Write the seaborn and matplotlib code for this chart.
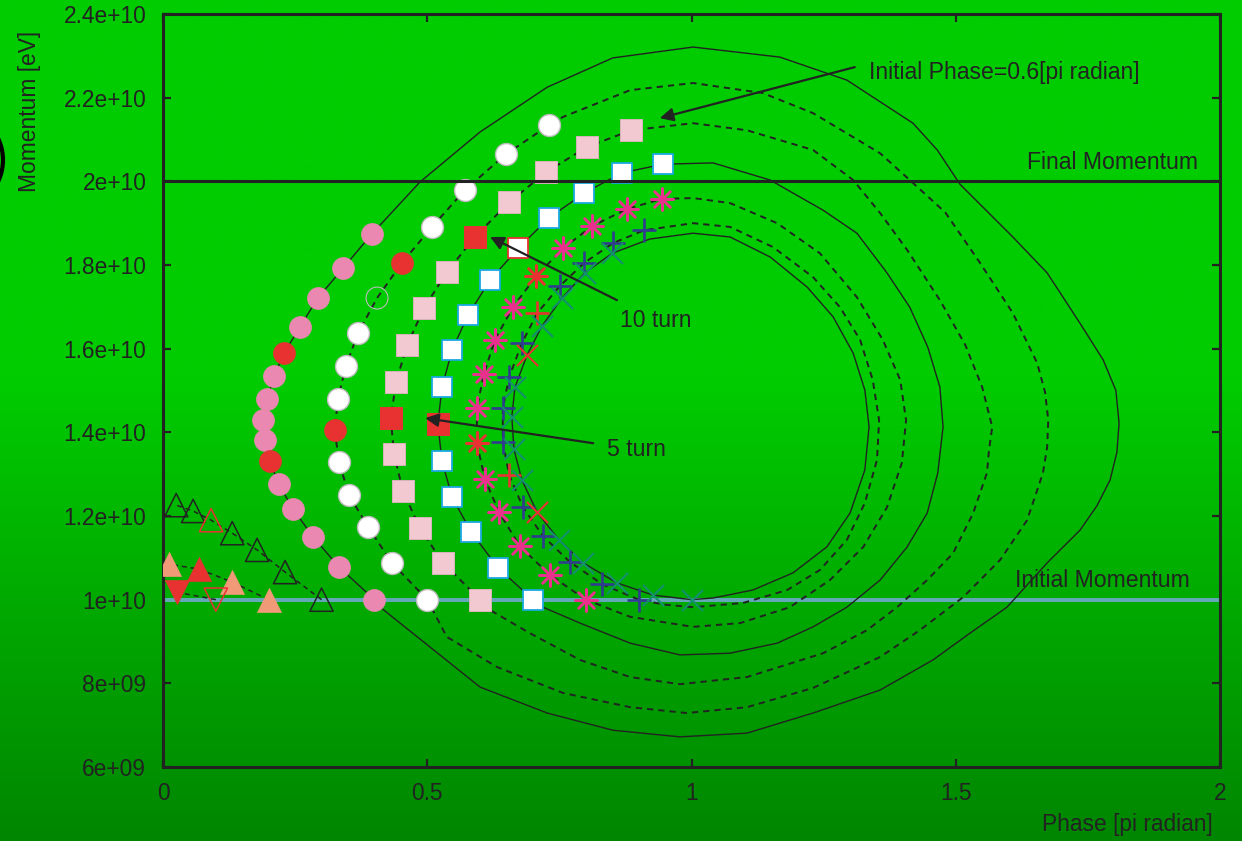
import numpy as np
import pandas as pd
import matplotlib
matplotlib.use("Agg")
import matplotlib.pyplot as plt
import seaborn as sns
from matplotlib.patches import Circle
from matplotlib.transforms import IdentityTransform

sns.set_theme(style="white")
plt.rcParams["font.family"] = ["Liberation Sans", "DejaVu Sans"]

SCALE = 1e9  # momentum values below are in units of 1e9 eV
HIGHLIGHT = [5, 10]  # 5th and 10th turn

# ---------------- turn-by-turn points (phase [pi rad], momentum [1e9 eV]) -------------
# initial phase 0.4 (pink circles)
c1_x = [0.40, 0.333, 0.284, 0.246, 0.219, 0.202, 0.193, 0.189, 0.197, 0.210, 0.229, 0.259, 0.293, 0.341, 0.395]
c1_y = [10.0, 10.78, 11.50, 12.17, 12.76, 13.31, 13.82, 14.29, 14.80, 15.34, 15.89, 16.52, 17.21, 17.93, 18.74]
# initial phase 0.5 (white circles)
c2_x = [0.50, 0.433, 0.388, 0.352, 0.333, 0.325, 0.331, 0.346, 0.369, 0.405, 0.452, 0.509, 0.571, 0.649, 0.730]
c2_y = [10.0, 10.88, 11.74, 12.50, 13.29, 14.05, 14.80, 15.58, 16.37, 17.21, 18.05, 18.91, 19.79, 20.65, 21.34]
# initial phase 0.6 (light pink squares)
c3_x = [0.60, 0.530, 0.486, 0.454, 0.437, 0.431, 0.441, 0.462, 0.494, 0.537, 0.590, 0.655, 0.725, 0.802, 0.886]
c3_y = [10.0, 10.88, 11.71, 12.60, 13.48, 14.34, 15.20, 16.09, 16.97, 17.83, 18.67, 19.50, 20.22, 20.82, 21.22]
# initial phase 0.7 (blue-edged squares)
c4_x = [0.70, 0.634, 0.583, 0.547, 0.528, 0.520, 0.528, 0.547, 0.577, 0.619, 0.672, 0.730, 0.797, 0.868, 0.946]
c4_y = [10.0, 10.76, 11.62, 12.45, 13.31, 14.20, 15.08, 15.97, 16.80, 17.64, 18.40, 19.12, 19.72, 20.20, 20.41]
# initial phase 0.8 (asterisks)
c5_x = [0.80, 0.732, 0.675, 0.636, 0.609, 0.594, 0.594, 0.607, 0.628, 0.662, 0.706, 0.757, 0.812, 0.878, 0.944]
c5_y = [10.0, 10.59, 11.28, 12.09, 12.88, 13.74, 14.58, 15.39, 16.21, 16.99, 17.73, 18.40, 18.93, 19.34, 19.58]
# initial phase 0.9 (plus)
c6_x = [0.90, 0.831, 0.770, 0.719, 0.681, 0.655, 0.643, 0.643, 0.655, 0.679, 0.708, 0.751, 0.797, 0.851, 0.910]
c6_y = [10.0, 10.37, 10.90, 11.52, 12.21, 12.98, 13.77, 14.58, 15.32, 16.13, 16.85, 17.50, 18.05, 18.52, 18.83]
# initial phase 1.0 (x)
c7_x = [1.00, 0.927, 0.859, 0.795, 0.749, 0.708, 0.679, 0.664, 0.660, 0.666, 0.689, 0.717, 0.755, 0.798, 0.850]
c7_y = [10.0, 10.11, 10.40, 10.88, 11.43, 12.09, 12.86, 13.60, 14.37, 15.08, 15.85, 16.54, 17.21, 17.81, 18.28]

# remaining parts of each closed trajectory (after the last marker)
c1_rest_x = [0.486, 0.600, 0.727, 0.851, 1.003, 1.167, 1.294, 1.419, 1.465, 1.508, 1.608, 1.673, 1.703, 1.741, 1.779,
             1.803, 1.809, 1.805, 1.792, 1.767, 1.735, 1.673, 1.597, 1.527, 1.457, 1.357, 1.230, 1.105, 0.978, 0.851,
             0.727, 0.600, 0.505, 0.411]
c1_rest_y = [19.98, 21.18, 22.25, 22.95, 23.21, 22.97, 22.42, 21.39, 20.75, 19.93, 18.67, 17.81, 17.23, 16.49, 15.73,
             15.00, 14.22, 13.53, 12.86, 12.24, 11.66, 10.88, 9.82, 9.20, 8.56, 7.84, 7.29, 6.81, 6.72, 6.88,
             7.29, 7.91, 8.87, 9.82]
c2_rest_x = [0.757, 0.884, 1.003, 1.135, 1.230, 1.357, 1.413, 1.480, 1.546, 1.608, 1.654, 1.669, 1.675, 1.673, 1.665,
             1.635, 1.584, 1.514, 1.432, 1.357, 1.230, 1.105, 0.991, 0.884, 0.757, 0.632, 0.537]
c2_rest_y = [21.54, 22.18, 22.35, 22.11, 21.63, 20.67, 20.03, 19.26, 18.05, 16.85, 15.66, 14.96, 14.29, 13.65, 13.03,
             11.90, 10.95, 10.06, 9.27, 8.63, 7.89, 7.43, 7.29, 7.43, 7.77, 8.39, 9.11]
c3_rest_x = [1.003, 1.105, 1.230, 1.306, 1.357, 1.408, 1.470, 1.518, 1.550, 1.569, 1.563, 1.559, 1.533, 1.495, 1.446,
             1.389, 1.332, 1.249, 1.105, 0.978, 0.884, 0.789, 0.694, 0.619]
c3_rest_y = [21.39, 21.22, 20.75, 20.03, 19.24, 18.36, 17.16, 16.09, 15.08, 14.13, 13.58, 13.03, 12.07, 11.11, 10.47,
             9.82, 9.27, 8.72, 8.15, 7.98, 8.15, 8.56, 9.20, 9.75]
c4_rest_x = [1.041, 1.149, 1.249, 1.313, 1.370, 1.413, 1.447, 1.470, 1.476, 1.466, 1.446, 1.408, 1.357, 1.294, 1.230,
             1.162, 1.073, 0.978, 0.884, 0.789, 0.719]
c4_rest_y = [20.44, 20.03, 19.31, 18.76, 17.81, 16.99, 16.04, 15.08, 14.13, 13.03, 12.07, 11.26, 10.47, 9.82, 9.35,
             8.96, 8.72, 8.68, 8.96, 9.44, 9.82]
c5_rest_x = [1.003, 1.073, 1.162, 1.243, 1.313, 1.362, 1.395, 1.406, 1.398, 1.370, 1.325, 1.262, 1.186, 1.092, 1.003, 0.884]
c5_rest_y = [19.60, 19.48, 19.00, 18.28, 17.23, 16.21, 15.25, 14.29, 13.27, 12.21, 11.26, 10.47, 9.82, 9.44, 9.35, 9.59]
c6_rest_x = [1.003, 1.073, 1.154, 1.230, 1.281, 1.319, 1.343, 1.355, 1.351, 1.328, 1.294, 1.243, 1.181, 1.097, 1.003, 0.950]
c6_rest_y = [19.00, 18.91, 18.43, 17.71, 16.99, 16.21, 15.25, 14.29, 13.34, 12.31, 11.43, 10.71, 10.23, 9.92, 9.82, 9.88]
c7_rest_x = [0.921, 1.003, 1.073, 1.149, 1.219, 1.268, 1.306, 1.328, 1.336, 1.328, 1.300, 1.256, 1.192, 1.116, 1.041]
c7_rest_y = [18.62, 18.76, 18.67, 18.19, 17.47, 16.76, 15.89, 15.01, 14.13, 13.10, 12.07, 11.26, 10.64, 10.23, 10.04]

# particles outside the bucket (initial phase 0.3, 0.2, 0.1)
t3_x = [0.30, 0.231, 0.178, 0.131, 0.091, 0.057, 0.025]
t3_y = [10.0, 10.66, 11.19, 11.59, 11.90, 12.12, 12.26]
t3_red = 4
t2_x = [0.20, 0.131, 0.068, 0.011]
t2_y = [10.0, 10.42, 10.73, 10.85]
t2_red = 2
t1_x = [0.10, 0.026]
t1_y = [10.0, 10.18]

initial_momentum = 10.0
final_momentum = 20.0

xticks = [0, 0.5, 1, 1.5, 2]
xticklabels = ["0", "0.5", "1", "1.5", "2"]
yticks = [6, 8, 10, 12, 14, 16, 18, 20, 22, 24]
yticklabels = ["6e+09", "8e+09", "1e+10", "1.2e+10", "1.4e+10", "1.6e+10", "1.8e+10", "2e+10", "2.2e+10", "2.4e+10"]

# ---------------- colours ----------------
INK = "#222222"
PINK = "#EA88B2"
RED = "#E83232"
LTPINK = "#F2C9D1"
CYAN = "#1BA9E1"
MAGENTA = "#E8318C"
NAVY = "#2F3C8F"
TEAL = "#13906C"
SALMON = "#F09A78"
STEEL = "#63A8B6"

W, H = 1242, 841
fig = plt.figure(figsize=(W / 100, H / 100), dpi=100)

# background gradient
bg = fig.add_axes([0, 0, 1, 1], zorder=-10)
rows = np.linspace(0, 1, 400)
g = np.where(rows < 0.45, 204, 204 - (rows - 0.45) / 0.55 * 70)
img = np.zeros((400, 2, 3))
img[:, :, 1] = (g / 255.0)[:, None]
bg.imshow(img, aspect="auto", extent=[0, 1, 0, 1], interpolation="bilinear")
bg.set_axis_off()

L, R, T, B = 163, 1220, 14, 767
ax = fig.add_axes([L / W, (H - B) / H, (R - L) / W, (B - T) / H])
ax.set_facecolor("none")

# reference lines
ax.axhline(initial_momentum * SCALE, color=STEEL, lw=2.9, zorder=1)
ax.axhline(final_momentum * SCALE, color=INK, lw=2.2, zorder=5)

# trajectories
curves = [
    (c1_x, c1_y, c1_rest_x, c1_rest_y, False),
    (c2_x, c2_y, c2_rest_x, c2_rest_y, True),
    (c3_x, c3_y, c3_rest_x, c3_rest_y, True),
    (c4_x, c4_y, c4_rest_x, c4_rest_y, False),
    (c5_x, c5_y, c5_rest_x, c5_rest_y, True),
    (c6_x, c6_y, c6_rest_x, c6_rest_y, True),
    (c7_x, c7_y, c7_rest_x, c7_rest_y, False),
]
for mx, my, rx, ry, dashed in curves:
    df = pd.DataFrame({"phase": list(mx) + list(rx) + [mx[0]],
                       "mom": (np.array(list(my) + list(ry) + [my[0]])) * SCALE})
    sns.lineplot(data=df, x="phase", y="mom", sort=False, estimator=None,
                 color=INK, lw=1.4 if dashed else 1.0, ax=ax, zorder=2)
    ax.lines[-1].set_solid_joinstyle("round")
    if dashed:
        ax.lines[-1].set_dashes([3.2, 2.6])

for tx, ty in [(t3_x, t3_y), (t2_x, t2_y), (t1_x, t1_y)]:
    sns.lineplot(x=np.array(tx), y=np.array(ty) * SCALE, sort=False, estimator=None,
                 color=INK, lw=1.1, ax=ax, zorder=2)
    ax.lines[-1].set_dashes([3.2, 2.6])


def pick(xs, ys, idx):
    return np.array([xs[i] for i in idx]), np.array([ys[i] for i in idx]) * SCALE


def others(n, excl):
    return [i for i in range(n) if i not in excl]


def scat(xs, ys, **kw):
    sns.scatterplot(x=xs, y=ys, ax=ax, legend=False, zorder=3, **kw)


# pink circles
scat(*pick(c1_x, c1_y, others(15, HIGHLIGHT)), marker="o", s=250, color=PINK, edgecolor=PINK, linewidth=0.5)
scat(*pick(c1_x, c1_y, HIGHLIGHT), marker="o", s=250, color=RED, edgecolor=RED, linewidth=0.5)
# white circles
scat(*pick(c2_x, c2_y, others(15, HIGHLIGHT + [9])), marker="o", s=250, color="white", edgecolor="#BBBBBB", linewidth=1.0)
scat(*pick(c2_x, c2_y, HIGHLIGHT), marker="o", s=250, color=RED, edgecolor=RED, linewidth=0.5)
scat(*pick(c2_x, c2_y, [9]), marker="o", s=250, color="none", edgecolor="#BBBBBB", linewidth=0.8)
# light pink squares
scat(*pick(c3_x, c3_y, others(15, HIGHLIGHT)), marker="s", s=230, color=LTPINK, edgecolor="#D9B3BA", linewidth=0.7)
scat(*pick(c3_x, c3_y, HIGHLIGHT), marker="s", s=230, color=RED, edgecolor=RED, linewidth=0.7)
# blue-edged squares
scat(*pick(c4_x, c4_y, others(15, HIGHLIGHT)), marker="s", s=215, color="white", edgecolor=CYAN, linewidth=1.3)
scat(*pick(c4_x, c4_y, [5]), marker="s", s=230, color=RED, edgecolor=RED, linewidth=0.7)
scat(*pick(c4_x, c4_y, [10]), marker="s", s=215, color="white", edgecolor=RED, linewidth=1.3)
# asterisks
AST = (8, 2, 0)
scat(*pick(c5_x, c5_y, others(15, HIGHLIGHT)), marker=AST, s=250, color=MAGENTA, linewidth=1.8)
scat(*pick(c5_x, c5_y, HIGHLIGHT), marker=AST, s=250, color=RED, linewidth=1.8)
# plus
scat(*pick(c6_x, c6_y, others(15, HIGHLIGHT)), marker="+", s=280, color=NAVY, linewidth=1.9)
scat(*pick(c6_x, c6_y, HIGHLIGHT), marker="+", s=280, color=RED, linewidth=1.9)
# x
scat(*pick(c7_x, c7_y, others(15, HIGHLIGHT)), marker="x", s=230, color=TEAL, linewidth=1.5)
scat(*pick(c7_x, c7_y, HIGHLIGHT), marker="x", s=230, color=RED, linewidth=1.5)
# triangles
scat(*pick(t3_x, t3_y, others(len(t3_x), [t3_red])), marker="^", s=280, color="none", edgecolor=INK, linewidth=1.1)
scat(*pick(t3_x, t3_y, [t3_red]), marker="^", s=280, color="none", edgecolor=RED, linewidth=1.1)
scat(*pick(t2_x, t2_y, others(len(t2_x), [t2_red])), marker="^", s=300, color=SALMON, edgecolor=SALMON, linewidth=0.5)
scat(*pick(t2_x, t2_y, [t2_red]), marker="^", s=300, color=RED, edgecolor=RED, linewidth=0.5)
scat(*pick(t1_x, t1_y, [0]), marker="v", s=280, color="none", edgecolor=RED, linewidth=1.1)
scat(*pick(t1_x, t1_y, [1]), marker="v", s=300, color=RED, edgecolor=RED, linewidth=0.5)

# axes styling
ax.set_xlim(0, 2)
ax.set_ylim(6 * SCALE, 24 * SCALE)
ax.set_xticks(xticks)
ax.set_xticklabels(xticklabels)
ax.set_yticks([v * SCALE for v in yticks])
ax.set_yticklabels(yticklabels)
ax.tick_params(axis="both", direction="in", length=6, width=1.6, color=INK,
               labelcolor=INK, labelsize=16.4, top=True, right=True,
               bottom=True, left=True)
ax.tick_params(axis="x", pad=11)
ax.tick_params(axis="y", pad=12)
for sp in ax.spines.values():
    sp.set_color(INK)
    sp.set_linewidth(2.2)
    sp.set_visible(True)
ax.grid(False)

ax.set_xlabel("Phase [pi radian]", fontsize=16.4, color=INK, ha="right", va="top")
ax.xaxis.set_label_coords(0.9934, -0.061)
ax.set_ylabel("Momentum [eV]", fontsize=16.4, color=INK)
ax.yaxis.set_label_coords(-0.1154, 0.871)

# annotations
FS = 16.6
arrow = dict(arrowstyle="-|>", color=INK, lw=1.6, mutation_scale=20, shrinkA=0, shrinkB=0)
ax.annotate("", xy=(0.940, 21.51 * SCALE), xytext=(1.309, 22.73 * SCALE), arrowprops=arrow, zorder=6)
ax.text(1.336, 22.61 * SCALE, "Initial Phase=0.6[pi radian]", fontsize=FS, color=INK, ha="left", va="center")
ax.annotate("", xy=(0.619, 18.67 * SCALE), xytext=(0.859, 17.16 * SCALE), arrowprops=arrow, zorder=6)
ax.text(0.865, 16.68 * SCALE, "10 turn", fontsize=FS, color=INK, ha="left", va="center")
ax.annotate("", xy=(0.496, 14.34 * SCALE), xytext=(0.814, 13.74 * SCALE), arrowprops=arrow, zorder=6)
ax.text(0.840, 13.60 * SCALE, "5 turn", fontsize=FS, color=INK, ha="left", va="center")
ax.text(1.958, 20.44 * SCALE, "Final Momentum", fontsize=FS, color=INK, ha="right", va="center")
ax.text(1.943, 10.47 * SCALE, "Initial Momentum", fontsize=FS, color=INK, ha="right", va="center")

# partial black ring at the left edge
ring = Circle((-47, H - 160), 50, transform=IdentityTransform(), fill=False, edgecolor="black", lw=3.0)
fig.patches.append(ring)

fig.savefig("out.png", dpi=100)
